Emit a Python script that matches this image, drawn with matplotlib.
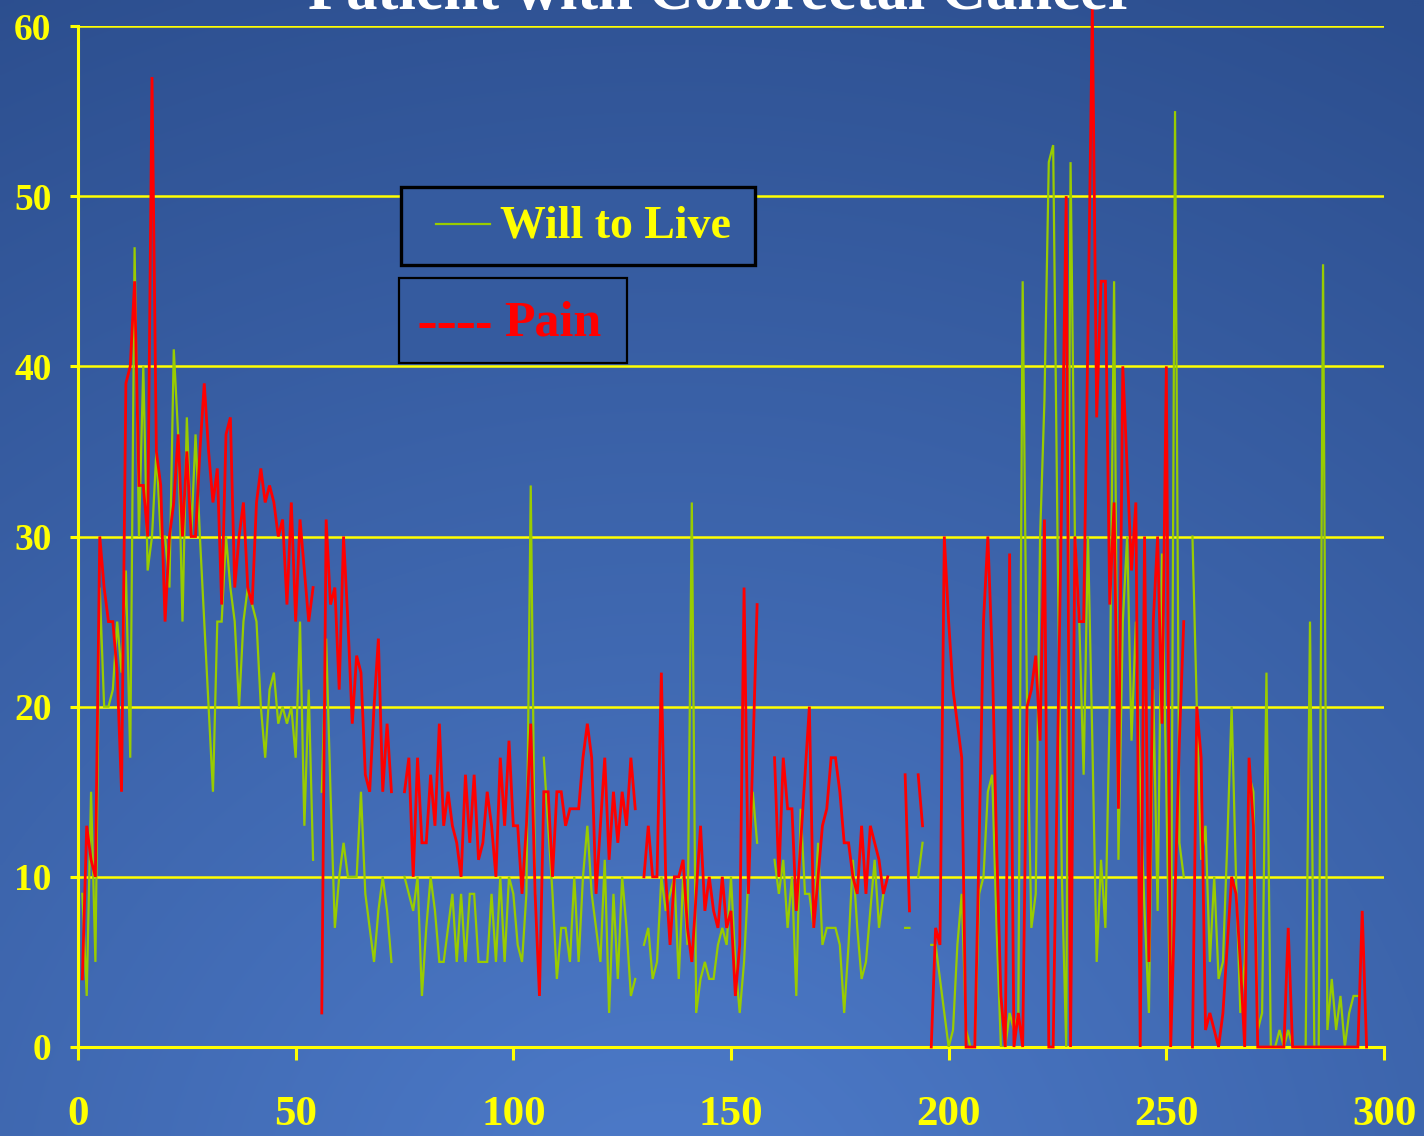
import numpy as np
import matplotlib
matplotlib.use("Agg")
import matplotlib.pyplot as plt
from matplotlib.patches import Rectangle
from matplotlib.lines import Line2D

nan = np.nan
plt.rcParams['lines.scale_dashes'] = False

# ---------------- data ----------------
days = list(range(1, 297))

pain = [
    4, 13, 11, 10, 30, 27, 25, 25, 22, 15,           # 1-10
    39, 40, 45, 33, 33, 30, 57, 35, 33, 25,          # 11-20
    30, 32, 36, 30, 35, 30, 30, 35, 39, 35,          # 21-30
    32, 34, 26, 36, 37, 27, 30, 32, 27, 26,          # 31-40
    32, 34, 32, 33, 32, 30, 31, 26, 32, 25,          # 41-50
    31, 28, 25, 27, nan, 2, 31, 26, 27, 21,          # 51-60
    30, 25, 19, 23, 22, 16, 15, 20, 24, 15,          # 61-70
    19, 15, nan, nan, 15, 17, 10, 17, 12, 12,        # 71-80
    16, 13, 19, 13, 15, 13, 12, 10, 16, 12,          # 81-90
    16, 11, 12, 15, 13, 10, 17, 13, 18, 13,          # 91-100
    13, 9, 13, 19, 9, 3, 15, 15, 10, 15,             # 101-110
    15, 13, 14, 14, 14, 17, 19, 17, 9, 13,           # 111-120
    17, 11, 15, 12, 15, 13, 17, 14, nan, 10,         # 121-130
    13, 10, 10, 22, 10, 6, 10, 10, 11, 7,            # 131-140
    5, 9, 13, 8, 10, 8, 7, 10, 7, 8,                 # 141-150
    3, 6, 27, 9, 17, 26, nan, nan, nan, 17,          # 151-160
    10, 17, 14, 14, 8, 12, 16, 20, 7, 10,            # 161-170
    13, 14, 17, 17, 15, 12, 12, 10, 9, 13,           # 171-180
    9, 13, 12, 11, 9, 10, nan, nan, nan, 16,         # 181-190
    8, nan, 16, 13, nan, 0, 7, 6, 30, 25,            # 191-200
    21, 19, 17, 0, 0, 0, 12, 25, 30, 23,             # 201-210
    12, 3, 0, 29, 0, 2, 0, 20, 21, 23,               # 211-220
    18, 31, 0, 0, 17, 33, 50, 0, 30, 25,             # 221-230
    25, 42, 61, 37, 45, 45, 26, 32, 14, 40,          # 231-240
    34, 28, 32, 0, 30, 5, 25, 30, 19, 40,            # 241-250
    0, 9, 18, 25, nan, 0, 20, 17, 1, 2,              # 251-260
    1, 0, 2, 6, 10, 9, 5, 0, 17, 13,                 # 261-270
    0, 0, 0, 0, 0, 0, 0, 7, 0, 0,                    # 271-280
    0, 0, 0, 0, 0, 0, 0, 0, 0, 0,                    # 281-290
    0, 0, 0, 0, 8, 0,                                # 291-296
]

will_to_live = [
    9, 3, 15, 5, 27, 20, 20, 21, 25, 22,             # 1-10
    28, 17, 47, 30, 40, 28, 30, 35, 30, 30,          # 11-20
    27, 41, 36, 25, 37, 30, 36, 30, 25, 20,          # 21-30
    15, 25, 25, 30, 27, 25, 20, 25, 27, 26,          # 31-40
    25, 20, 17, 21, 22, 19, 20, 19, 20, 17,          # 41-50
    25, 13, 21, 11, nan, 15, 24, 15, 7, 10,          # 51-60
    12, 10, 10, 10, 15, 9, 7, 5, 8, 10,              # 61-70
    8, 5, nan, nan, 10, 9, 8, 10, 3, 7,              # 71-80
    10, 8, 5, 5, 7, 9, 5, 9, 5, 9,                   # 81-90
    9, 5, 5, 5, 9, 5, 10, 5, 10, 9,                  # 91-100
    6, 5, 9, 33, 9, nan, 17, 13, 9, 4,               # 101-110
    7, 7, 5, 10, 5, 10, 13, 9, 7, 5,                 # 111-120
    11, 2, 9, 4, 10, 7, 3, 4, nan, 6,                # 121-130
    7, 4, 5, 10, 8, 9, 10, 4, 10, 6,                 # 131-140
    32, 2, 4, 5, 4, 4, 6, 7, 6, 10,                  # 141-150
    5, 2, 5, 10, 15, 12, nan, nan, nan, 11,          # 151-160
    9, 11, 7, 10, 3, 14, 9, 9, 7, 12,                # 161-170
    6, 7, 7, 7, 6, 2, 6, 11, 7, 4,                   # 171-180
    5, 8, 11, 7, 9, nan, nan, nan, nan, 7,           # 181-190
    7, nan, 10, 12, nan, 6, 6, 4, 2, 0,              # 191-200
    1, 6, 9, 1, 0, 0, 9, 10, 15, 16,                 # 201-210
    7, 0, 0, 2, 1, 2, 45, 20, 7, 9,                  # 211-220
    30, 38, 52, 53, 30, 10, 0, 52, 30, 25,           # 221-230
    16, 30, 18, 5, 11, 7, 20, 45, 11, 25,            # 231-240
    30, 18, 25, 15, 8, 2, 21, 8, 29, 15,             # 241-250
    0, 55, 12, 10, nan, 30, 20, 11, 13, 5,           # 251-260
    10, 4, 5, 12, 20, 10, 2, 5, 16, 15,              # 261-270
    1, 2, 22, 0, 0, 1, 0, 1, 0, 0,                   # 271-280
    0, 0, 25, 0, 0, 46, 1, 4, 1, 3,                  # 281-290
    0, 2, 3, 3, nan, nan,                            # 291-296
]

x_ticks = [0, 50, 100, 150, 200, 250, 300]
y_ticks = [0, 10, 20, 30, 40, 50, 60]
title = "Patient with Colorectal Cancer"
legend_labels = ["Will to Live", "Pain"]

# ---------------- figure ----------------
W, H = 1424, 1136
fig = plt.figure(figsize=(W / 100, H / 100), dpi=100)

c_center = np.array([78, 124, 203]) / 255.0
c_edge = np.array([44, 78, 142]) / 255.0


def bg_color(fx, fy_top):
    d = np.sqrt(((fx - 0.47) * 1.0) ** 2 + ((fy_top - 1.08) * 0.9) ** 2)
    t = np.clip(d / 1.1, 0, 1)
    return c_center[None, None, :] * (1 - t[..., None]) + c_edge[None, None, :] * t[..., None] if np.ndim(t) else c_center * (1 - t) + c_edge * t


gx, gy = np.meshgrid(np.linspace(0, 1, 300), np.linspace(0, 1, 240))
img = bg_color(gx, gy)
bgax = fig.add_axes([0, 0, 1, 1], zorder=-10)
bgax.imshow(img, aspect='auto', extent=[0, 1, 1, 0], interpolation='bilinear')
bgax.set_axis_off()

YEL = '#FFFF00'
GREEN = '#99CC00'
RED = '#FF0000'
SERIF = ['Liberation Serif', 'DejaVu Serif']

ax = fig.add_axes([78 / W, (H - 1047) / H, 1306 / W, 1021 / H])
ax.patch.set_alpha(0)
ax.set_xlim(0, 300)
ax.set_ylim(0, 60)

ax.plot(days, will_to_live, color=GREEN, lw=1.6, zorder=3, solid_joinstyle='miter')
ax.plot(days, pain, color=RED, lw=2.0, zorder=4, clip_on=False, solid_joinstyle='miter')

for s in ['top', 'right']:
    ax.spines[s].set_visible(False)
for s in ['left', 'bottom']:
    ax.spines[s].set_color(YEL)
    ax.spines[s].set_linewidth(2.2)
    ax.spines[s].set_zorder(2)

ax.set_xticks(x_ticks)
ax.set_yticks(y_ticks)
ax.yaxis.grid(True, color=YEL, lw=1.8, zorder=1)
ax.set_axisbelow(True)
ax.tick_params(axis='x', length=9, width=2.2, color=YEL, pad=26, labelcolor=YEL)
ax.tick_params(axis='y', length=6, width=2.2, color=YEL, pad=13, labelcolor=YEL)
for lab in ax.get_xticklabels():
    lab.set_fontfamily(SERIF); lab.set_fontweight('bold'); lab.set_fontsize(31)
for lab in ax.get_yticklabels():
    lab.set_fontfamily(SERIF); lab.set_fontweight('bold'); lab.set_fontsize(27)

# title (cut off by the top edge as in the original)
fig.text(722 / W, 1 - 9 / H, title, ha='center', va='baseline', color='white',
         fontsize=45, fontweight='bold', family=SERIF)


# ---------------- legend boxes ----------------
def fx(px):
    return px / W


def fy(py):
    return 1 - py / H


box_fill = tuple(bg_color(np.array(0.4), np.array(0.2)).ravel())
r1 = Rectangle((fx(401), fy(265)), fx(755) - fx(401), fy(187) - fy(265), transform=fig.transFigure,
               facecolor=box_fill, edgecolor='black', lw=2.4, zorder=5)
fig.add_artist(r1)
r2 = Rectangle((fx(399), fy(363)), fx(627) - fx(399), fy(278) - fy(363), transform=fig.transFigure,
               facecolor=box_fill, edgecolor='black', lw=1.6, zorder=5)
fig.add_artist(r2)

fig.add_artist(Line2D([fx(436), fx(490)], [fy(224), fy(224)], transform=fig.transFigure,
                      color=GREEN, lw=1.6, zorder=6))
l2 = Line2D([fx(419), fx(490)], [fy(325), fy(325)], transform=fig.transFigure,
            color=RED, lw=3.6, zorder=6, solid_capstyle='butt', dash_capstyle='butt')
l2.set_dashes((11.5, 2.3))
fig.add_artist(l2)

fig.text(fx(500), fy(226), legend_labels[0], ha='left', va='center', color=YEL,
         fontsize=33, fontweight='bold', family=SERIF, zorder=6)
fig.text(fx(504), fy(324), legend_labels[1], ha='left', va='center', color=RED,
         fontsize=36, fontweight='bold', family=SERIF, zorder=6)

fig.savefig('out.png', dpi=100)
